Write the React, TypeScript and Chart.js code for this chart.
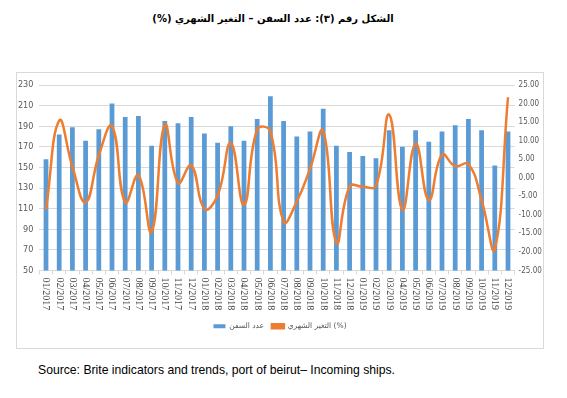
import React, { useEffect, useRef } from "react";
import { Chart, registerables } from "chart.js";

Chart.register(...registerables);

const months: string[] = [
  "01/2017", "02/2017", "03/2017", "04/2017", "05/2017", "06/2017",
  "07/2017", "08/2017", "09/2017", "10/2017", "11/2017", "12/2017",
  "01/2018", "02/2018", "03/2018", "04/2018", "05/2018", "06/2018",
  "07/2018", "08/2018", "09/2018", "10/2018", "11/2018", "12/2018",
  "01/2019", "02/2019", "03/2019", "04/2019", "05/2019", "06/2019",
  "07/2019", "08/2019", "09/2019", "10/2019", "11/2019", "12/2019",
];

const shipCounts: number[] = [
  158, 182, 189, 176, 187, 212, 199, 200, 171, 195, 193, 199,
  183, 174, 190, 176, 197, 219, 195, 180, 185, 207, 171, 165,
  161, 159, 186, 170, 186, 175, 185, 191, 197, 186, 152, 185,
];

const monthlyChange: number[] = [
  -8.6, 15.4, 3.0, -6.6, 6.0, 13.9, -6.6, 0.7, -14.6, 14.2, -1.4, 3.3,
  -8.4, -4.8, 9.3, -7.3, 13.0, 12.5, -11.9, -6.4, 2.4, 12.6, -17.5, -2.4,
  -2.4, -2.2, 17.0, -8.6, 9.2, -6.0, 6.2, 3.1, 3.7, -6.0, -19.2, 21.7,
];

const leftTicks = { min: 50, max: 230, step: 20 };
const rightTicks = { min: -25, max: 25, step: 5 };

const seriesNames = ["عدد السفن", "التغير الشهري (%)"];
const titleText = "الشكل رقم (٣): عدد السفن – التغير الشهري (%)";
const sourceText = "Source: Brite indicators and trends, port of beirut– Incoming ships.";

const GRID = "#d9d9d9";
const TICK = "#595959";
const NARROW = "'Liberation Sans Narrow', 'DejaVu Sans Condensed', 'Liberation Sans'";

export default function App() {
  const ref = useRef<HTMLCanvasElement | null>(null);

  useEffect(() => {
    if (!ref.current) return;
    const xLabelPlugin = {
      id: "xLabels",
      afterDraw(chart: any) {
        const ctx = chart.ctx;
        const xs = chart.scales.x;
        const top = chart.chartArea.bottom + 7;
        ctx.save();
        ctx.font = "10px 'Liberation Serif'";
        ctx.fillStyle = "#404040";
        ctx.textAlign = "left";
        ctx.textBaseline = "middle";
        months.forEach((m, i) => {
          const x = xs.getPixelForTick(i);
          ctx.save();
          ctx.translate(x, top);
          ctx.rotate(Math.PI / 2);
          ctx.fillText(m, 0, 0);
          ctx.restore();
        });
        ctx.restore();
      },
    };

    const chart = new Chart(ref.current, {
      type: "bar",
      data: {
        labels: months,
        datasets: [
          {
            type: "bar",
            label: seriesNames[0],
            data: shipCounts,
            backgroundColor: "#5B9BD5",
            borderWidth: 0,
            barPercentage: 0.36,
            categoryPercentage: 1,
            yAxisID: "y",
            order: 1,
          },
          {
            type: "line",
            label: seriesNames[1],
            data: monthlyChange,
            borderColor: "#ED7D31",
            backgroundColor: "#ED7D31",
            borderWidth: 2.5,
            pointRadius: 0,
            tension: 0.45,
            yAxisID: "y1",
            order: 0,
          },
        ],
      },
      options: {
        animation: false,
        responsive: false,
        maintainAspectRatio: false,
        layout: { padding: { top: 12, left: 0, right: 0, bottom: 8 } },
        plugins: {
          legend: {
            position: "bottom",
            labels: {
              sort: (a: any, b: any) => a.datasetIndex - b.datasetIndex,
              boxWidth: 12,
              boxHeight: 4,
              padding: 8,
              color: TICK,
              font: { family: "'DejaVu Sans'", size: 7.5 },
            },
          },
          tooltip: { enabled: false },
        },
        scales: {
          x: {
            grid: {
              display: true,
              drawOnChartArea: false,
              offset: true,
              tickLength: 4,
              color: GRID,
            },
            border: { color: GRID },
            ticks: { display: false },
            afterFit: (s: any) => {
              s.height = 44;
            },
          },
          y: {
            position: "left",
            min: leftTicks.min,
            max: leftTicks.max,
            ticks: {
              stepSize: leftTicks.step,
              color: TICK,
              padding: 6,
              font: { family: NARROW, size: 9 },
            },
            grid: { color: GRID, drawTicks: false },
            border: { display: false },
            afterFit: (s: any) => {
              s.width = 22.4;
            },
          },
          y1: {
            position: "right",
            min: rightTicks.min,
            max: rightTicks.max,
            ticks: {
              stepSize: rightTicks.step,
              color: TICK,
              padding: 4,
              font: { family: NARROW, size: 8 },
              callback: (v: any) => Number(v).toFixed(2),
            },
            grid: { drawOnChartArea: false, drawTicks: false },
            border: { display: false },
            afterFit: (s: any) => {
              s.width = 28.4;
            },
          },
        },
      },
      plugins: [xLabelPlugin],
    } as any);
    return () => chart.destroy();
  }, []);

  return (
    <div style={{ position: "absolute", left: 0, top: 0, width: 567, height: 398, background: "#fff" }}>
      <div
        dir="rtl"
        style={{
          position: "absolute",
          left: 0,
          top: 11,
          width: 546,
          textAlign: "center",
          fontFamily: "'DejaVu Sans', sans-serif",
          fontWeight: "bold",
          fontSize: 10,
          lineHeight: "16px",
          color: "#000",
        }}
      >
        {titleText}
      </div>
      <div
        style={{
          position: "absolute",
          left: 16,
          top: 72,
          width: 528,
          height: 277,
          border: "1px solid #d9d9d9",
          boxSizing: "border-box",
        }}
      >
        <canvas ref={ref} width={526} height={275} style={{ display: "block" }} />
      </div>
      <div
        style={{
          position: "absolute",
          left: 38,
          top: 362,
          fontFamily: "'Liberation Sans', Arial, sans-serif",
          fontSize: 12.2,
          lineHeight: "16px",
          color: "#000",
          whiteSpace: "nowrap",
        }}
      >
        {sourceText}
      </div>
    </div>
  );
}
